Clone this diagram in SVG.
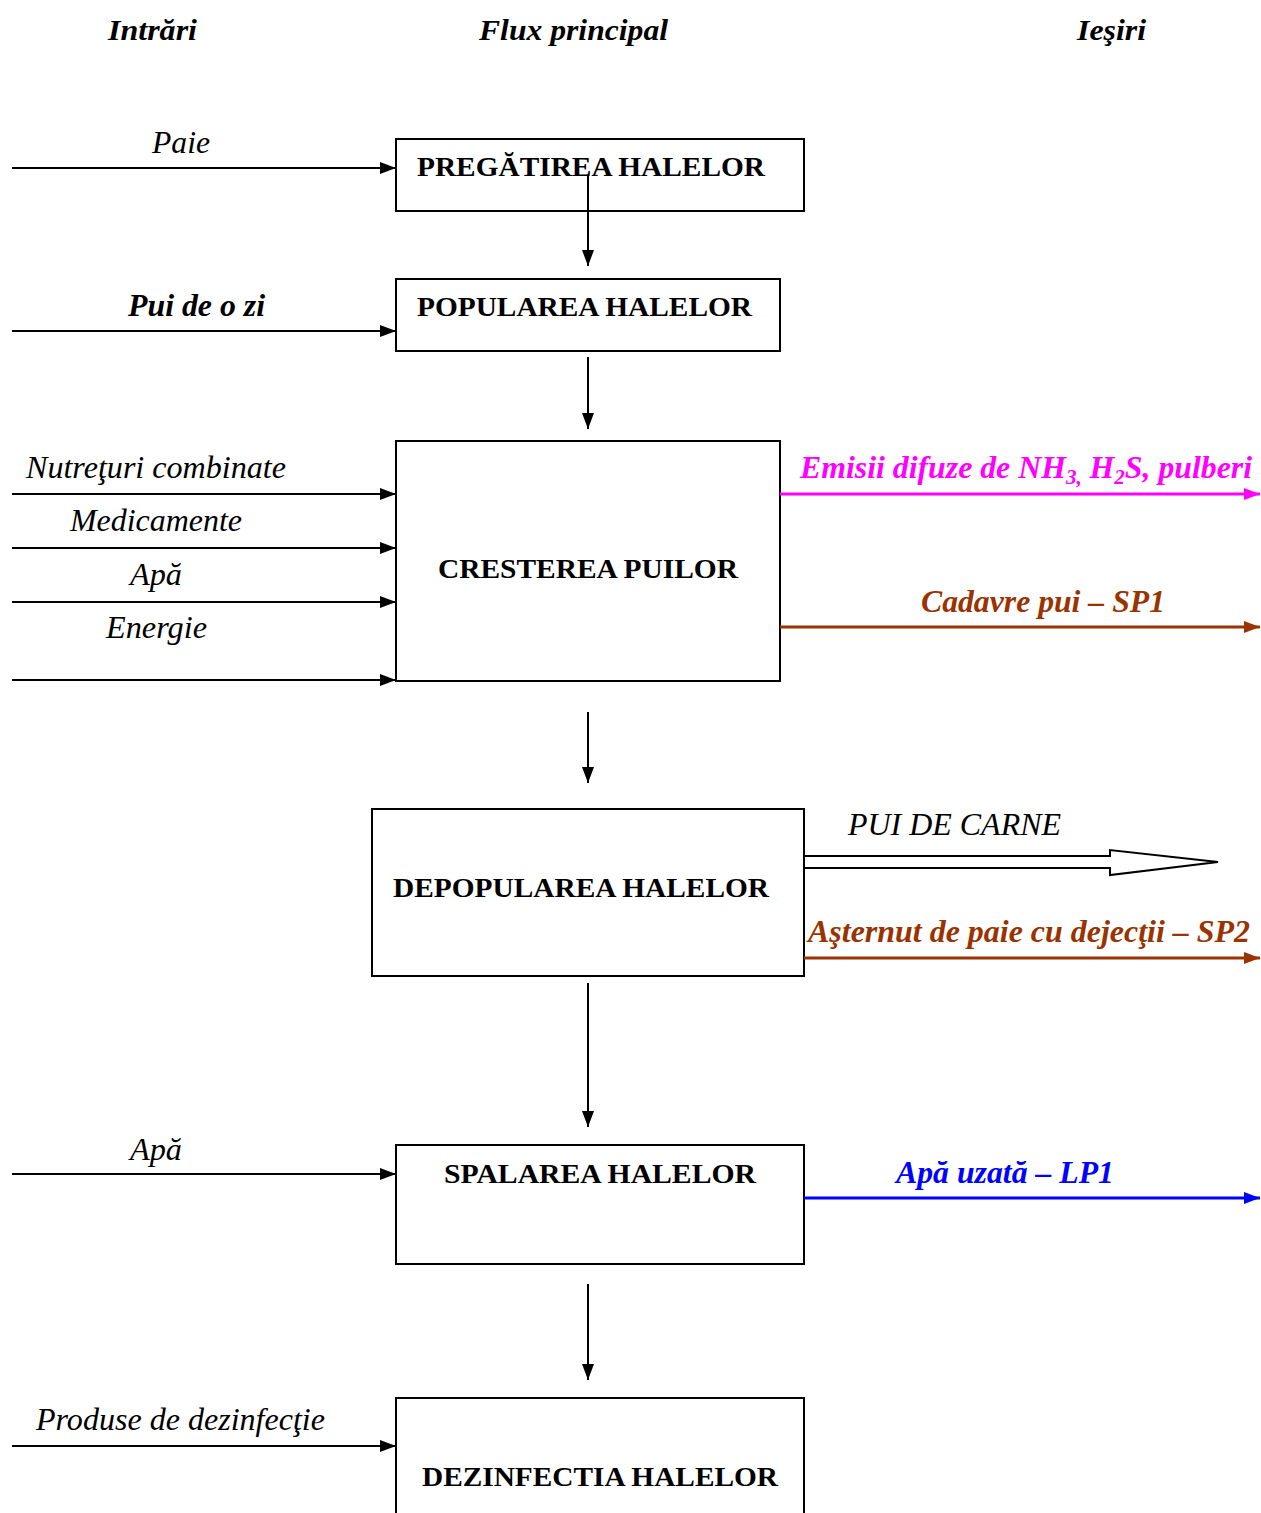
<svg xmlns="http://www.w3.org/2000/svg" width="1261" height="1513" viewBox="0 0 1261 1513">
<style>
.box{fill:#fff;stroke:#000;stroke-width:2}
.bt{font-family:"Liberation Serif",serif;font-weight:bold;font-size:27px;fill:#000}
.it{font-family:"Liberation Serif",serif;font-style:italic;font-size:31px;fill:#000}
.bi{font-family:"Liberation Serif",serif;font-style:italic;font-weight:bold;font-size:31px}
.hd{font-family:"Liberation Serif",serif;font-style:italic;font-weight:bold;font-size:30px;fill:#000}
.ln{stroke:#000;stroke-width:2;fill:none}
</style>
<defs>
<marker id="ak" markerWidth="16" markerHeight="12" refX="16" refY="6" orient="auto" markerUnits="userSpaceOnUse"><path d="M0,0 L16,6 L0,12 Z" fill="#000"/></marker>
<marker id="am" markerWidth="16" markerHeight="12" refX="16" refY="6" orient="auto" markerUnits="userSpaceOnUse"><path d="M0,0 L16,6 L0,12 Z" fill="#FF00FF"/></marker>
<marker id="ab" markerWidth="16" markerHeight="12" refX="16" refY="6" orient="auto" markerUnits="userSpaceOnUse"><path d="M0,0 L16,6 L0,12 Z" fill="#993300"/></marker>
<marker id="au" markerWidth="16" markerHeight="12" refX="16" refY="6" orient="auto" markerUnits="userSpaceOnUse"><path d="M0,0 L16,6 L0,12 Z" fill="#0000FF"/></marker>
</defs>

<g id="headers">
<text class="hd" x="108" y="40" textLength="89" lengthAdjust="spacingAndGlyphs">Intrări</text>
<text class="hd" x="479" y="40" textLength="189" lengthAdjust="spacingAndGlyphs">Flux principal</text>
<text class="hd" x="1077" y="40" textLength="69" lengthAdjust="spacingAndGlyphs">Ieşiri</text>
</g>

<g id="n1"><rect class="box" x="396" y="139" width="408" height="72"/><text class="bt" x="417" y="176" textLength="348" lengthAdjust="spacingAndGlyphs">PREGĂTIREA HALELOR</text></g>
<g id="n2"><rect class="box" x="396" y="279" width="384" height="72"/><text class="bt" x="417" y="316" textLength="335" lengthAdjust="spacingAndGlyphs">POPULAREA HALELOR</text></g>
<g id="n3"><rect class="box" x="396" y="441" width="384" height="240"/><text class="bt" x="438" y="578" textLength="300" lengthAdjust="spacingAndGlyphs">CRESTEREA PUILOR</text></g>
<g id="n4"><rect class="box" x="372" y="809" width="432" height="167"/><text class="bt" x="393" y="897" textLength="376" lengthAdjust="spacingAndGlyphs">DEPOPULAREA HALELOR</text></g>
<g id="n5"><rect class="box" x="396" y="1145" width="408" height="119"/><text class="bt" x="444" y="1183" textLength="312" lengthAdjust="spacingAndGlyphs">SPALAREA HALELOR</text></g>
<g id="n6"><rect class="box" x="396" y="1398" width="408" height="130"/><text class="bt" x="422" y="1486" textLength="356" lengthAdjust="spacingAndGlyphs">DEZINFECTIA HALELOR</text></g>

<g id="connectors">
<line class="ln" x1="588" y1="175" x2="588" y2="266" marker-end="url(#ak)"/>
<line class="ln" x1="588" y1="357" x2="588" y2="429" marker-end="url(#ak)"/>
<line class="ln" x1="588" y1="712" x2="588" y2="783" marker-end="url(#ak)"/>
<line class="ln" x1="588" y1="983" x2="588" y2="1127" marker-end="url(#ak)"/>
<line class="ln" x1="588" y1="1284" x2="588" y2="1380" marker-end="url(#ak)"/>

<line class="ln" x1="12" y1="168" x2="396" y2="168" marker-end="url(#ak)"/>
<line class="ln" x1="12" y1="331" x2="396" y2="331" marker-end="url(#ak)"/>
<line class="ln" x1="12" y1="494" x2="396" y2="494" marker-end="url(#ak)"/>
<line class="ln" x1="12" y1="548" x2="396" y2="548" marker-end="url(#ak)"/>
<line class="ln" x1="12" y1="602" x2="396" y2="602" marker-end="url(#ak)"/>
<line class="ln" x1="12" y1="680" x2="396" y2="680" marker-end="url(#ak)"/>
<line class="ln" x1="12" y1="1174" x2="396" y2="1174" marker-end="url(#ak)"/>
<line class="ln" x1="12" y1="1446" x2="396" y2="1446" marker-end="url(#ak)"/>

<line x1="780" y1="494" x2="1260" y2="494" stroke="#FF00FF" stroke-width="3" marker-end="url(#am)"/>
<line x1="780" y1="627" x2="1260" y2="627" stroke="#993300" stroke-width="3" marker-end="url(#ab)"/>
<polygon points="804,856 1110,856 1110,850 1218,862 1110,875 1110,868 804,868" fill="#fff" stroke="#000" stroke-width="2"/>
<line x1="804" y1="958" x2="1260" y2="958" stroke="#993300" stroke-width="3" marker-end="url(#ab)"/>
<line x1="804" y1="1198" x2="1260" y2="1198" stroke="#0000FF" stroke-width="3" marker-end="url(#au)"/>
</g>

<g id="labels">
<text class="it" x="152" y="153" textLength="58" lengthAdjust="spacingAndGlyphs">Paie</text>
<text class="bi" x="128" y="316" fill="#000" textLength="137" lengthAdjust="spacingAndGlyphs">Pui de o zi</text>
<text class="it" x="26" y="478" textLength="260" lengthAdjust="spacingAndGlyphs">Nutreţuri combinate</text>
<text class="it" x="70" y="531" textLength="172" lengthAdjust="spacingAndGlyphs">Medicamente</text>
<text class="it" x="130" y="585" textLength="52" lengthAdjust="spacingAndGlyphs">Apă</text>
<text class="it" x="106" y="638" textLength="101" lengthAdjust="spacingAndGlyphs">Energie</text>
<text class="bi" x="800" y="478" fill="#FF00FF" style="font-size:31.8px">Emisii difuze de NH<tspan style="font-size:21px" dy="6">3,</tspan><tspan dy="-6"> H</tspan><tspan style="font-size:21px" dy="6">2</tspan><tspan dy="-6">S, pulberi</tspan></text>
<text class="bi" x="921" y="612" fill="#993300" textLength="244" lengthAdjust="spacingAndGlyphs">Cadavre pui – SP1</text>
<text class="it" x="848" y="835" textLength="213" lengthAdjust="spacingAndGlyphs">PUI DE CARNE</text>
<text class="bi" x="808" y="942" fill="#993300" textLength="442" lengthAdjust="spacingAndGlyphs">Aşternut de paie cu dejecţii – SP2</text>
<text class="it" x="130" y="1160" textLength="52" lengthAdjust="spacingAndGlyphs">Apă</text>
<text class="bi" x="896" y="1183" fill="#0000FF" textLength="218" lengthAdjust="spacingAndGlyphs">Apă uzată – LP1</text>
<text class="it" x="36" y="1430" textLength="289" lengthAdjust="spacingAndGlyphs">Produse de dezinfecţie</text>
</g>
</svg>
